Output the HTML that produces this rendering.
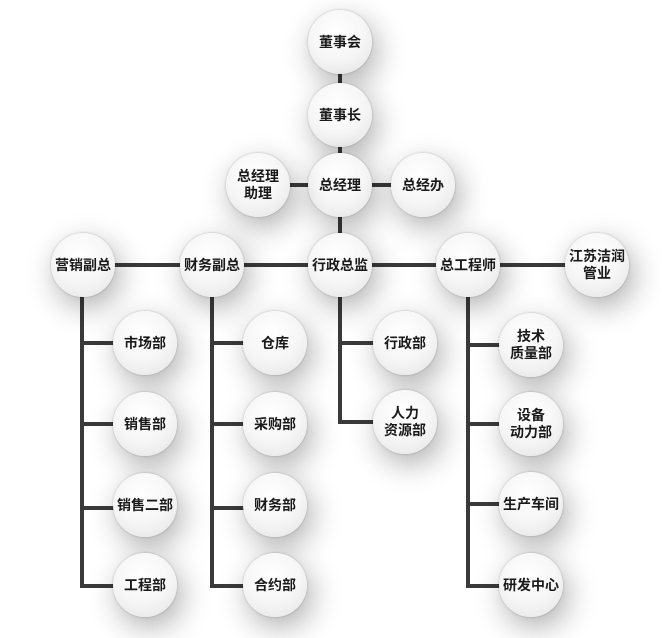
<!DOCTYPE html>
<html><head><meta charset="utf-8"><style>
body{margin:0;width:662px;height:638px;background:#fff;position:relative;overflow:hidden;font-family:"Liberation Sans","Noto Sans CJK SC",sans-serif}
.l{position:absolute;background:#3a3a3a}
.c{position:absolute;width:64px;height:64px;margin:-32px 0 0 -32px;border-radius:50%;
background:radial-gradient(circle at 45% 35%,#ffffff 0%,#f6f6f6 50%,#e2e2e2 100%);
box-shadow:5px 10px 30px rgba(0,0,0,.32),0 0 2px rgba(0,0,0,.25);
display:flex;align-items:center;justify-content:center;text-align:center;
font-size:14px;font-weight:bold;color:#1a1a1a;line-height:17px}
</style></head><body>
<div class="l" style="left:338px;top:42px;width:4px;height:225px"></div>
<div class="l" style="left:258px;top:183px;width:165px;height:4px"></div>
<div class="l" style="left:83px;top:263px;width:514px;height:4px"></div>
<div class="l" style="left:80px;top:265px;width:4px;height:322px"></div>
<div class="l" style="left:210px;top:265px;width:4px;height:322px"></div>
<div class="l" style="left:338px;top:265px;width:4px;height:159px"></div>
<div class="l" style="left:466px;top:265px;width:4px;height:322px"></div>
<div class="l" style="left:80px;top:341px;width:65px;height:4px"></div>
<div class="l" style="left:80px;top:422px;width:65px;height:4px"></div>
<div class="l" style="left:80px;top:506px;width:65px;height:4px"></div>
<div class="l" style="left:80px;top:584px;width:65px;height:4px"></div>
<div class="l" style="left:210px;top:341px;width:65px;height:4px"></div>
<div class="l" style="left:210px;top:422px;width:65px;height:4px"></div>
<div class="l" style="left:210px;top:506px;width:65px;height:4px"></div>
<div class="l" style="left:210px;top:584px;width:65px;height:4px"></div>
<div class="l" style="left:338px;top:341px;width:67px;height:4px"></div>
<div class="l" style="left:338px;top:420px;width:67px;height:4px"></div>
<div class="l" style="left:466px;top:343px;width:65px;height:4px"></div>
<div class="l" style="left:466px;top:422px;width:65px;height:4px"></div>
<div class="l" style="left:466px;top:502px;width:65px;height:4px"></div>
<div class="l" style="left:466px;top:584px;width:65px;height:4px"></div>

<div class="c" style="left:340px;top:42px">董事会</div>
<div class="c" style="left:340px;top:115px">董事长</div>
<div class="c" style="left:340px;top:185px">总经理</div>
<div class="c" style="left:258px;top:185px">总经理<br>助理</div>
<div class="c" style="left:423px;top:185px">总经办</div>
<div class="c" style="left:83px;top:265px">营销副总</div>
<div class="c" style="left:212px;top:265px">财务副总</div>
<div class="c" style="left:340px;top:265px">行政总监</div>
<div class="c" style="left:468px;top:265px">总工程师</div>
<div class="c" style="left:597px;top:265px">江苏洁润<br>管业</div>
<div class="c" style="left:145px;top:343px">市场部</div>
<div class="c" style="left:145px;top:424px">销售部</div>
<div class="c" style="left:145px;top:505px">销售二部</div>
<div class="c" style="left:145px;top:585px">工程部</div>
<div class="c" style="left:275px;top:343px">仓库</div>
<div class="c" style="left:275px;top:424px">采购部</div>
<div class="c" style="left:275px;top:505px">财务部</div>
<div class="c" style="left:275px;top:585px">合约部</div>
<div class="c" style="left:405px;top:343px">行政部</div>
<div class="c" style="left:405px;top:422px">人力<br>资源部</div>
<div class="c" style="left:531px;top:345px">技术<br>质量部</div>
<div class="c" style="left:531px;top:424px">设备<br>动力部</div>
<div class="c" style="left:531px;top:504px">生产车间</div>
<div class="c" style="left:531px;top:585px">研发中心</div>
</body></html>
